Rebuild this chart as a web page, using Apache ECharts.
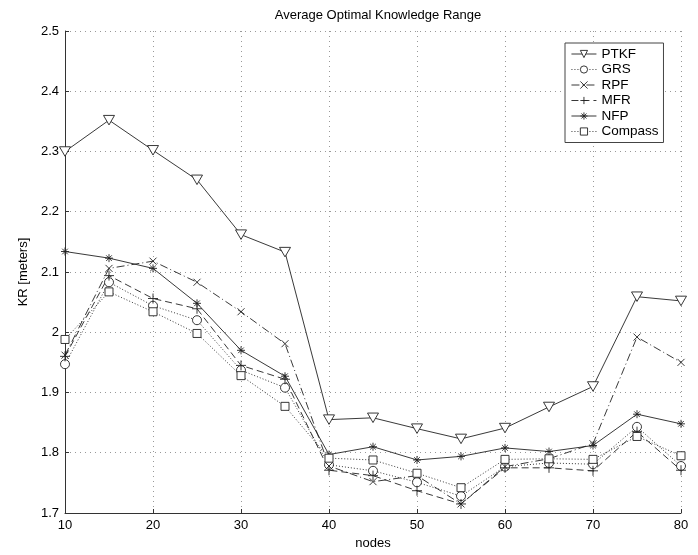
<!DOCTYPE html>
<html><head><meta charset="utf-8">
<script src="https://cdn.jsdelivr.net/npm/echarts@6/dist/echarts.min.js"></script>
<style>html,body{margin:0;padding:0;background:#fff}#c{width:698px;height:555px}</style>
</head><body><div id="c"></div>
<script>
const nodes = [10,15,20,25,30,35,40,45,50,55,60,65,70,75,80];
const PTKF    = [2.300,2.352,2.302,2.253,2.162,2.133,1.855,1.858,1.840,1.823,1.841,1.876,1.910,2.059,2.052];
const GRS     = [1.947,2.083,2.044,2.020,1.937,1.908,1.780,1.770,1.751,1.728,1.777,1.783,1.781,1.843,1.778];
const RPF     = [1.962,2.106,2.118,2.083,2.034,1.981,1.778,1.752,1.762,1.715,1.777,1.790,1.815,1.992,1.950];
const MFR     = [1.960,2.094,2.056,2.039,1.945,1.922,1.771,1.762,1.737,1.715,1.775,1.775,1.770,1.835,1.771];
const NFP     = [2.134,2.123,2.106,2.048,1.970,1.927,1.797,1.810,1.788,1.794,1.808,1.802,1.812,1.864,1.848];
const Compass = [1.988,2.067,2.034,1.998,1.928,1.877,1.791,1.788,1.766,1.742,1.789,1.790,1.789,1.827,1.795];
const yTicks = [1.7,1.8,1.9,2.0,2.1,2.2,2.3,2.4,2.5];

const FONT = "'Liberation Sans', Arial, Helvetica, sans-serif";
const pair = arr => nodes.map((n,i)=>[n, arr[i]]);
const SYM_X = 'path://M0,0L10,10M10,0L0,10';
const SYM_PLUS = 'path://M5,0L5,10M0,5L10,5';
const SYM_STAR = 'path://M5,0L5,10M0,5L10,5M1.5,1.5L8.5,8.5M8.5,1.5L1.5,8.5';
const SYM_TRI = 'path://M0,0L10,0L5,8.66Z';
const SYM_CIRC = 'path://M10,5A5,5,0,1,1,0,5A5,5,0,1,1,10,5Z';
const SYM_RECT = 'path://M0,0L10,0L10,10L0,10Z';

function mk(name, data, symbol, size, lineType, extra) {
  return Object.assign({
    name, type:'line', data: pair(data), symbol, symbolSize:size,
    showAllSymbol:true,
    lineStyle:{color:'#222', width:0.9, type: lineType},
    itemStyle:{color:'rgba(0,0,0,0)', borderColor:'#222', borderWidth:0.9},
    emphasis:{disabled:true}, animation:false, z:3
  }, extra||{});
}

const chart = echarts.init(document.getElementById('c'), null, {renderer:'canvas'});
chart.setOption({
  backgroundColor:'#fff',
  animation:false,
  title:{text:'Average Optimal Knowledge Range', left:373, textAlign:'center', top:4,
    textStyle:{fontFamily:FONT, fontSize:13, fontWeight:'normal', color:'#000'}},
  grid:{left:65, right:17, top:31, bottom:42, show:false},
  legend:{
    orient:'vertical', left:565, top:43,
    backgroundColor:'#fff', borderColor:'#444', borderWidth:1,
    padding:[4,5,4,6], itemGap:1.5, itemWidth:25, itemHeight:9,
    itemStyle:{borderWidth:0.9},
    lineStyle:{width:0.9},
    textStyle:{fontFamily:FONT, fontSize:13.5, color:'#000', lineHeight:14},
    data:['PTKF','GRS','RPF','MFR','NFP','Compass']
  },
  xAxis:{
    type:'value', min:10, max:80, interval:10,
    name:'nodes', nameLocation:'middle', nameGap:22,
    nameTextStyle:{fontFamily:FONT, fontSize:13, color:'#000'},
    axisLine:{show:true, onZero:false, lineStyle:{color:'#333', width:1}},
    axisTick:{show:true, inside:true, length:4, lineStyle:{color:'#333'}},
    axisLabel:{fontFamily:FONT, fontSize:13, color:'#000', margin:6},
    splitLine:{show:true, lineStyle:{color:'#999', width:1, type:[1,4]}}
  },
  yAxis:{
    type:'value', min:yTicks[0], max:yTicks[yTicks.length-1], interval:0.1,
    name:'KR [meters]', nameLocation:'middle', nameGap:34, nameRotate:90,
    nameTextStyle:{fontFamily:FONT, fontSize:13, color:'#000'},
    axisLine:{show:true, onZero:false, lineStyle:{color:'#333', width:1}},
    axisTick:{show:true, inside:true, length:4, lineStyle:{color:'#333'}},
    axisLabel:{fontFamily:FONT, fontSize:13, color:'#000', margin:6,
      formatter:v=>String(Math.round(v*10)/10)},
    splitLine:{show:true, lineStyle:{color:'#999', width:1, type:[1,4]}}
  },
  series:[
    mk('PTKF', PTKF, SYM_TRI, [11,9.5], 'solid', {itemStyle:{color:'#fff', borderColor:'#222', borderWidth:0.9}}),
    mk('GRS', GRS, SYM_CIRC, 9, [1,2], {itemStyle:{color:'#fff', borderColor:'#222', borderWidth:0.9}}),
    mk('RPF', RPF, SYM_X, 7, [8,3,1,3]),
    mk('MFR', MFR, SYM_PLUS, 10, [7,4]),
    mk('NFP', NFP, SYM_STAR, 8, 'solid'),
    mk('Compass', Compass, SYM_RECT, 8, [1,2], {itemStyle:{color:'#fff', borderColor:'#222', borderWidth:0.9}})
  ]
});
</script></body></html>
